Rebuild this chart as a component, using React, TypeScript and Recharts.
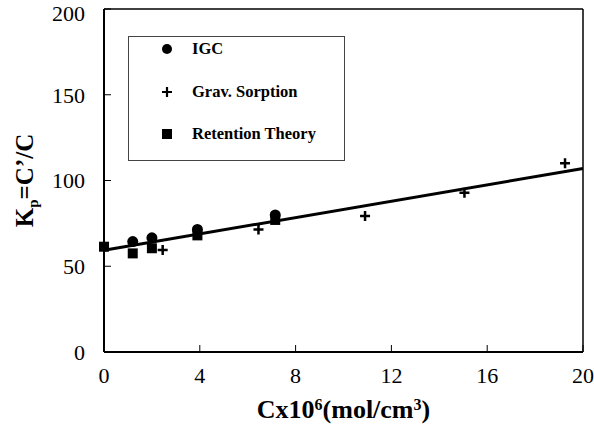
import React from 'react'
import { ComposedChart, Scatter, XAxis, YAxis, ReferenceLine, Label } from 'recharts'

// values
const igcX = [1.2, 2.0, 3.9, 7.15]
const igcY = [64.4, 66.6, 71.5, 79.9]
const gravX = [2.45, 6.45, 10.9, 15.05, 19.25]
const gravY = [59.5, 71.5, 79.3, 92.9, 110]
const retX = [0, 1.2, 2.0, 3.9, 7.15]
const retY = [61.4, 57.5, 60.5, 68, 77]
const fitX = [0, 20]
const fitY = [59.3, 107]
const xTicks = [0, 4, 8, 12, 16, 20]
const yTicks = [0, 50, 100, 150, 200]

const serif = '"Liberation Serif", "Times New Roman", serif'

const pts = (xs: number[], ys: number[]) => xs.map((x, i) => ({ x, y: ys[i] }))

const Dot = (p: any) => <circle cx={p.cx} cy={p.cy} r={5.5} fill="#000" />
const Square = (p: any) => <rect x={p.cx - 5} y={p.cy - 5} width={10} height={10} fill="#000" />
const Plus = (p: any) => (
  <path
    d={`M${p.cx - 5},${p.cy}H${p.cx + 5}M${p.cx},${p.cy - 5}V${p.cy + 5}`}
    stroke="#000"
    strokeWidth={2.5}
  />
)
const NoShape = () => <g />

const XTitle = ({ viewBox }: any) => {
  const cx = viewBox.x + viewBox.width / 2
  const y = viewBox.y + 66
  return (
    <text x={cx} y={y} textAnchor="middle" fontFamily={serif} fontWeight="bold" fontSize={26} fill="#000">
      Cx10<tspan dy={-8} fontSize={16}>6</tspan>
      <tspan dy={8}>(mol/cm</tspan>
      <tspan dy={-8} fontSize={16}>3</tspan>
      <tspan dy={8}>)</tspan>
    </text>
  )
}

const YTitle = ({ viewBox }: any) => {
  const cy = viewBox.y + viewBox.height / 2
  const x = 33
  return (
    <text
      x={x}
      y={cy}
      transform={`rotate(-90 ${x} ${cy})`}
      textAnchor="middle"
      fontFamily={serif}
      fontWeight="bold"
      fontSize={25}
      fill="#000"
    >
      K<tspan dy={5} fontSize={15}>p</tspan>
      <tspan dy={-5}>=C’/C</tspan>
    </text>
  )
}

const legendItems = [
  { name: 'IGC', mark: 'dot' },
  { name: 'Grav. Sorption', mark: 'plus' },
  { name: 'Retention Theory', mark: 'square' },
]

const LegendMark = ({ mark }: { mark: string }) => (
  <svg width={12} height={12} style={{ display: 'block' }}>
    {mark === 'dot' && <circle cx={6} cy={6} r={5} fill="#000" />}
    {mark === 'square' && <rect x={1} y={1} width={10} height={10} fill="#000" />}
    {mark === 'plus' && <path d="M1,6H11M6,1V11" stroke="#000" strokeWidth={2.2} />}
  </svg>
)

export default function App() {
  return (
    <div style={{ position: 'absolute', left: 0, top: 0, width: 594, height: 427, background: '#fff' }}>
      <ComposedChart width={594} height={427} margin={{ top: 9, right: 11, bottom: 0, left: 0 }}>
        <XAxis
          type="number"
          dataKey="x"
          domain={[0, 20]}
          ticks={xTicks}
          height={75}
          stroke="#000"
          axisLine={{ stroke: '#000', strokeWidth: 2 }}
          tickLine={{ stroke: '#000', strokeWidth: 1 }}
          tickSize={-7}
          tickMargin={22}
          tick={{ fill: '#000', fontSize: 22, fontFamily: serif }}
        >
          <Label content={XTitle} />
        </XAxis>
        <YAxis
          type="number"
          dataKey="y"
          domain={[0, 200]}
          ticks={yTicks}
          width={104}
          stroke="#000"
          axisLine={{ stroke: '#000', strokeWidth: 2 }}
          tickLine={{ stroke: '#000', strokeWidth: 1 }}
          tickSize={-7}
          tickMargin={26}
          tick={{ fill: '#000', fontSize: 22, fontFamily: serif }}
        >
          <Label content={YTitle} />
        </YAxis>
        <ReferenceLine y={200} stroke="#000" strokeWidth={1.5} />
        <ReferenceLine x={20} stroke="#000" strokeWidth={1.5} />
        <Scatter
          name="fit"
          data={pts(fitX, fitY)}
          dataKey="y"
          line={{ stroke: '#000', strokeWidth: 3 }}
          shape={NoShape}
          isAnimationActive={false}
        />
        <Scatter name="IGC" data={pts(igcX, igcY)} dataKey="y" shape={Dot} isAnimationActive={false} />
        <Scatter name="Grav. Sorption" data={pts(gravX, gravY)} dataKey="y" shape={Plus} isAnimationActive={false} />
        <Scatter name="Retention Theory" data={pts(retX, retY)} dataKey="y" shape={Square} isAnimationActive={false} />
      </ComposedChart>
      <div
        style={{
          position: 'absolute',
          left: 128,
          top: 36,
          width: 217,
          height: 125,
          border: '1px solid #444',
          boxSizing: 'border-box',
          background: '#fff',
        }}
      >
        {legendItems.map((it, i) => (
          <div
            key={it.name}
            style={{
              position: 'absolute',
              left: 32,
              top: 2 + i * 42.5,
              height: 20,
              display: 'flex',
              alignItems: 'center',
              fontFamily: serif,
              fontWeight: 'bold',
              fontSize: 16.5,
              color: '#000',
              whiteSpace: 'nowrap',
            }}
          >
            <LegendMark mark={it.mark} />
            <span style={{ marginLeft: 19 }}>{it.name}</span>
          </div>
        ))}
      </div>
    </div>
  )
}
